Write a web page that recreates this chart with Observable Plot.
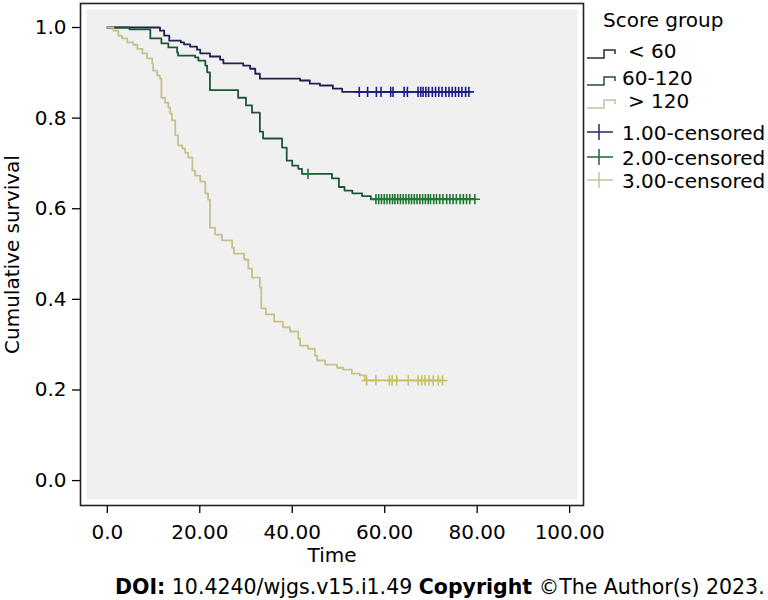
<!DOCTYPE html>
<html><head><meta charset="utf-8">
<script src="https://cdn.jsdelivr.net/npm/d3@7"></script>
<script src="https://cdn.jsdelivr.net/npm/@observablehq/plot@0.6"></script>
<style>body{margin:0;background:#fff}</style>
</head><body><div id="chart"></div>
<script>
// ---- data ----
const xTicks = [0, 20, 40, 60, 80, 100];
const yTicks = [0, 0.2, 0.4, 0.6, 0.8, 1.0];
const legendTitle = "Score group";
const groupLabels = ["< 60", "60-120", "> 120"];
const censorLabels = ["1.00-censored", "2.00-censored", "3.00-censored"];

const g1Time = [0, 11.4, 12.3, 13.4, 15.9, 16.6, 17.9, 19.4, 20.1, 22.2, 24.4, 25.1, 29.4, 30.9, 32.0, 33.0, 41.7, 43.8, 46.0, 48.8, 50.8];
const g1Surv = [1.0, 0.993, 0.982, 0.971, 0.967, 0.963, 0.958, 0.951, 0.943, 0.936, 0.929, 0.921, 0.916, 0.909, 0.898, 0.887, 0.883, 0.876, 0.872, 0.865, 0.858];
const g1Censor = [54.5, 56.3, 58.2, 59.2, 61.3, 61.8, 64.2, 64.9, 67.2, 67.8, 68.3, 68.9, 69.5, 70.3, 71.0, 71.7, 72.4, 73.2, 73.9, 74.6, 75.3, 76.0, 76.7, 77.5, 78.2];

const g2Time = [0, 4.8, 9.3, 11.7, 13.2, 15.1, 15.3, 19.0, 19.7, 21.2, 21.6, 22.2, 28.3, 30.0, 31.3, 33.0, 33.7, 37.8, 38.8, 40.0, 41.3, 42.1, 48.6, 50.1, 51.3, 53.0, 55.1, 57.0];
const g2Surv = [1.0, 0.996, 0.976, 0.965, 0.956, 0.945, 0.938, 0.934, 0.927, 0.916, 0.901, 0.862, 0.845, 0.828, 0.812, 0.770, 0.755, 0.735, 0.706, 0.695, 0.688, 0.677, 0.667, 0.648, 0.640, 0.634, 0.628, 0.621];
const g2Censor = [43.4, 58.1, 58.7, 59.3, 59.9, 60.5, 61.1, 61.7, 62.2, 62.8, 63.4, 64.0, 64.6, 65.2, 65.8, 66.4, 67.0, 67.6, 68.2, 68.8, 69.4, 69.9, 70.6, 71.2, 71.9, 72.6, 73.4, 74.1, 74.8, 75.5, 76.3, 77.0, 77.7, 78.4, 79.5];

const g3Time = [0, 1.3, 2.4, 3.2, 4.3, 5.6, 6.5, 7.6, 8.6, 9.7, 9.9, 10.8, 11.4, 11.7, 12.5, 13.2, 13.6, 14.0, 14.7, 15.3, 16.2, 16.8, 17.5, 18.4, 19.0, 20.1, 21.2, 21.8, 22.2, 23.3, 24.8, 27.0, 27.4, 29.6, 30.5, 31.3, 33.0, 33.3, 34.3, 36.1, 38.0, 39.5, 41.3, 41.7, 43.4, 44.9, 45.4, 47.1, 49.7, 51.0, 52.9, 54.6, 55.7];
const g3Surv = [1.0, 0.993, 0.982, 0.976, 0.967, 0.962, 0.953, 0.943, 0.932, 0.921, 0.905, 0.894, 0.887, 0.845, 0.834, 0.823, 0.810, 0.795, 0.762, 0.740, 0.733, 0.724, 0.713, 0.684, 0.673, 0.660, 0.634, 0.620, 0.558, 0.543, 0.530, 0.514, 0.501, 0.488, 0.468, 0.448, 0.426, 0.380, 0.367, 0.351, 0.338, 0.329, 0.313, 0.298, 0.291, 0.276, 0.265, 0.256, 0.249, 0.245, 0.236, 0.232, 0.221];
const g3Censor = [56.1, 58.1, 61.0, 61.6, 62.6, 65.1, 67.2, 68.0, 68.7, 69.6, 70.5, 71.6, 72.5];

// ---- styles ----
const lineColors = ["#20214f", "#1d5636", "#c6c18a"];
const markColors = ["#1c1c86", "#1b7a2e", "#c8c05a"];
const legendLineColors = ["#2a2a44", "#2c4c3c", "#c4c0a4"];
const legendPlusColors = ["#28286a", "#2a6040", "#c8c49a"];

function curve(t, s, c) {
  const pts = t.map((v, i) => ({t: v, s: s[i]}));
  pts.push({t: d3.max(c), s: s[s.length - 1]});
  return pts;
}
function censored(t, s, c) {
  return c.map(v => ({t: v, s: s[d3.bisectRight(t, v) - 1]}));
}
const groups = [[g1Time, g1Surv, g1Censor], [g2Time, g2Surv, g2Censor], [g3Time, g3Surv, g3Censor]];

const marks = [
  Plot.frame({fill: "#f0f0f0", inset: 6}),
  Plot.axisX({ticks: xTicks, tickFormat: d => d === 0 ? "0.0" : d.toFixed(2), tickSize: 8, tickPadding: 11, label: null, strokeWidth: 1.3}),
  Plot.axisY({ticks: yTicks, tickFormat: d => d.toFixed(1), tickSize: 8, tickPadding: 6, label: null, strokeWidth: 1.3}),
  Plot.text(["Time"], {frameAnchor: "bottom", dy: 56, fontSize: 20}),
  Plot.text(["Cumulative survival"], {frameAnchor: "left", textAnchor: "middle", rotate: -90, dx: -68, fontSize: 20})
];
groups.forEach(([t, s, c], i) => {
  marks.push(Plot.line(curve(t, s, c), {x: "t", y: "s", curve: "step-after", stroke: lineColors[i], strokeWidth: 1.8}));
});
groups.forEach(([t, s, c], i) => {
  marks.push(Plot.dot(censored(t, s, c), {x: "t", y: "s", symbol: "plus", r: 3.4, stroke: markColors[i], strokeWidth: 1.6}));
});
marks.push(Plot.frame({stroke: "#222", strokeWidth: 1.6}));

const chart = Plot.plot({
  width: 768, height: 600,
  marginLeft: 80, marginRight: 185, marginTop: 3, marginBottom: 95,
  style: {fontFamily: "DejaVu Sans", fontSize: "20px", background: "white", color: "black"},
  x: {domain: [-5.8, 103]},
  y: {domain: [-0.055, 1.053]},
  marks
});
document.getElementById("chart").appendChild(chart);

// ---- legend & caption ----
const svg = d3.select(chart);
const lg = svg.append("g").attr("font-family", "DejaVu Sans").attr("font-size", 20)
  .attr("fill", "black").attr("text-anchor", "start");
lg.append("text").attr("x", 603).attr("y", 27).text(legendTitle);
const stepRows = [{y: 58, x: 628}, {y: 85, x: 622}, {y: 108, x: 628}];
groupLabels.forEach((lab, i) => {
  const r = stepRows[i];
  lg.append("path").attr("d", `M587,${r.y} H604 V${r.y - 8} H615 V${r.y - 4}`)
    .attr("fill", "none").attr("stroke", legendLineColors[i]).attr("stroke-width", 1.5);
  lg.append("text").attr("x", r.x).attr("y", r.y).text(lab);
});
const plusRows = [140, 165, 188];
censorLabels.forEach((lab, i) => {
  const y = plusRows[i];
  lg.append("path").attr("d", `M587,${y - 8} H613 M599,${y - 16} V${y}`)
    .attr("fill", "none").attr("stroke", legendPlusColors[i]).attr("stroke-width", 1.5);
  lg.append("text").attr("x", 622).attr("y", y).text(lab);
});
const cap = svg.append("text").attr("x", 115).attr("y", 594).attr("text-anchor", "start")
  .attr("font-family", "DejaVu Sans").attr("font-size", 20.5).attr("fill", "black");
cap.append("tspan").attr("font-weight", "bold").text("DOI:");
cap.append("tspan").text(" 10.4240/wjgs.v15.i1.49 ");
cap.append("tspan").attr("font-weight", "bold").text("Copyright");
cap.append("tspan").text(" ©The Author(s) 2023.");
</script>
</body></html>
